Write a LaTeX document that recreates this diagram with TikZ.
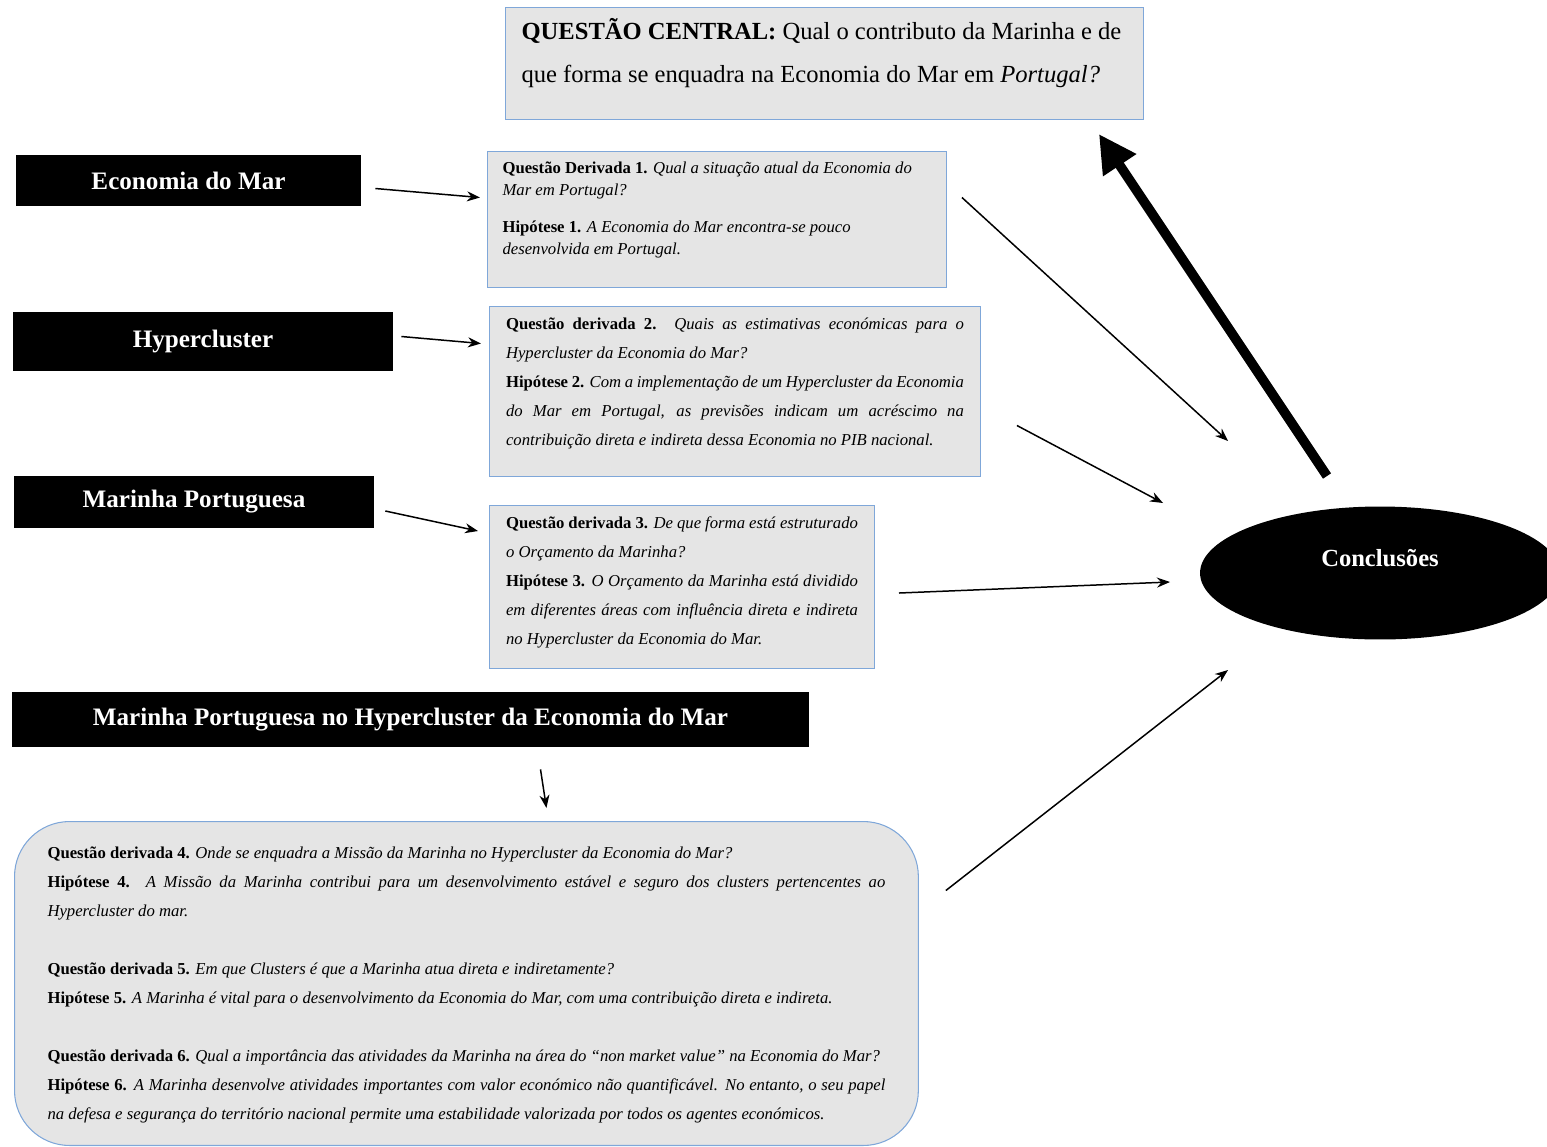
\documentclass[tikz,border=0pt]{standalone}
\usepackage{fontspec}
\setmainfont{Liberation Serif}
\usetikzlibrary{arrows.meta, calc, shapes.geometric}
\definecolor{boxblue}{HTML}{7FA7D9}
\newcommand{\qtext}[3]{\parbox[t][#2][t]{#1}{\raggedright #3}}
\newcommand{\jline}[1]{\makebox[\linewidth][s]{#1}}
\tikzset{
        qbox/.style={draw=boxblue, fill=black!10, line width=0.6pt, anchor=north west,
                     inner xsep=0.3cm, inner ysep=0.2cm, font=\fontsize{9.5}{16.5}\selectfont},
        blackbox/.style={fill=black, text=white, inner sep=0pt, font=\bfseries\fontsize{14.3}{16}\selectfont},
        conctext/.style={text=white, font=\bfseries\fontsize{14}{16}\selectfont},
        arr/.style={-{Stealth[length=0.26cm,width=0.2cm]}, line width=0.85pt},
        bigarr/.style={-{Triangle[length=0.75cm,width=0.75cm]}, line width=5.5pt}
        }

\begin{document}
\begin{tikzpicture}[x=0.02cm, y=-0.02cm]
        \useasboundingbox (0,0) rectangle (1547,1146);
        % questao central
        \node[qbox, inner xsep=0.32cm, inner ysep=0.22cm, font=\fontsize{14}{24.5}\selectfont] (central) at (505,7)
             {\qtext{12.12cm}{1.8cm}{\textbf{QUESTÃO CENTRAL:} Qual o contributo da Marinha e de\\ que forma se enquadra na Economia do Mar em \textit{Portugal?}}};
        % temas
        \node[blackbox, minimum width=6.9cm, minimum height=1.02cm] (eco) at (188.5,180.5) {Economia do Mar};
        \node[blackbox, minimum width=7.6cm, minimum height=1.18cm] (hyper) at (203,341.5) {Hypercluster};
        \node[blackbox, minimum width=7.2cm, minimum height=1.04cm] (marinha) at (194,502) {Marinha Portuguesa};
        \node[blackbox, minimum width=15.94cm, minimum height=1.1cm] (mphc) at (410.5,719.5) {Marinha Portuguesa no Hypercluster da Economia do Mar};
        % questoes derivadas
        \node[qbox, font=\fontsize{9.5}{12.5}\selectfont] (qd1) at (487,151)
             {\qtext{8.58cm}{2.32cm}{\textbf{Questão Derivada 1.} \textit{Qual a situação atual da Economia do}\\ \textit{Mar em Portugal?}\\[9pt]
              \textbf{Hipótese 1.} \textit{A Economia do Mar encontra-se pouco}\\ \textit{desenvolvida em Portugal.}}};
        \node[qbox, inner xsep=0.33cm, inner ysep=0.22cm] (qd2) at (489,306)
             {\qtext{9.16cm}{2.96cm}{\jline{\textbf{Questão derivada 2.} \textit{Quais as estimativas económicas para o}}\\
              \textit{Hypercluster da Economia do Mar?}\\
              \jline{\textbf{Hipótese 2.} \textit{Com a implementação de um Hypercluster da Economia}}\\
              \jline{\textit{do Mar em Portugal, as previsões indicam um acréscimo na}}\\
              \textit{contribuição direta e indireta dessa Economia no PIB nacional.}}};
        \node[qbox, inner xsep=0.33cm, inner ysep=0.22cm] (qd3) at (489,505)
             {\qtext{7.04cm}{2.82cm}{\jline{\textbf{Questão derivada 3.} \textit{De que forma está estruturado}}\\
              \textit{o Orçamento da Marinha?}\\
              \jline{\textbf{Hipótese 3.} \textit{O Orçamento da Marinha está dividido}}\\
              \jline{\textit{em diferentes áreas com influência direta e indireta}}\\
              \textit{no Hypercluster da Economia do Mar.}}};
        \node[qbox, rounded corners=1.1cm, inner xsep=0.66cm, inner ysep=0.5cm] (bottom) at (14,821)
             {\qtext{16.76cm}{5.48cm}{\textbf{Questão derivada 4.} \textit{Onde se enquadra a Missão da Marinha no Hypercluster da Economia do Mar?}\\
              \jline{\textbf{Hipótese 4.} \textit{A Missão da Marinha contribui para um desenvolvimento estável e seguro dos clusters pertencentes ao}}\\
              \textit{Hypercluster do mar.}\\[16.5pt]
              \textbf{Questão derivada 5.} \textit{Em que Clusters é que a Marinha atua direta e indiretamente?}\\
              \textbf{Hipótese 5.} \textit{A Marinha é vital para o desenvolvimento da Economia do Mar, com uma contribuição direta e indireta.}\\[16.5pt]
              \textbf{Questão derivada 6.} \textit{Qual a importância das atividades da Marinha na área do “non market value” na Economia do Mar?}\\
              \jline{\textbf{Hipótese 6.} \textit{A Marinha desenvolve atividades importantes com valor económico não quantificável. No entanto, o seu papel}}\\
              \textit{na defesa e segurança do território nacional permite uma estabilidade valorizada por todos os agentes económicos.}}};
        % conclusoes
        \node[ellipse, fill=black, inner sep=0pt, minimum width=7.2cm, minimum height=2.66cm,
              label={[conctext, yshift=0.3cm]center:Conclusões}] (concl) at (1380,573) {};
        % setas
        \draw[arr] ($(eco.east)+(14,8)$) -- ($(qd1.west)+(-7,-22)$);
        \draw[arr] ($(hyper.east)+(8,-5)$) -- ($(qd2.west)+(-8,-48)$);
        \draw[arr] ($(marinha.east)+(11,9)$) -- ($(qd3.west)+(-11,-56)$);
        \draw[arr] ($(mphc.south)+(130,22)$) -- ($(bottom.north)+(80,-13)$);
        \draw[arr] ($(qd1.east)+(15,-22)$) -- ($(concl.center)+(-152,-132)$);
        \draw[arr] ($(qd2.east)+(36,34)$) -- ($(concl.center)+(-217,-70)$);
        \draw[arr] ($(qd3.east)+(24,6)$) -- ($(concl.center)+(-210,9)$);
        \draw[arr] ($(bottom.east)+(27,-93)$) -- ($(concl.center)+(-152,97)$);
        \draw[bigarr] ($(concl.center)+(-53,-97)$) -- ($(central.south east)+(-45,14)$);
\end{tikzpicture}
\end{document}
